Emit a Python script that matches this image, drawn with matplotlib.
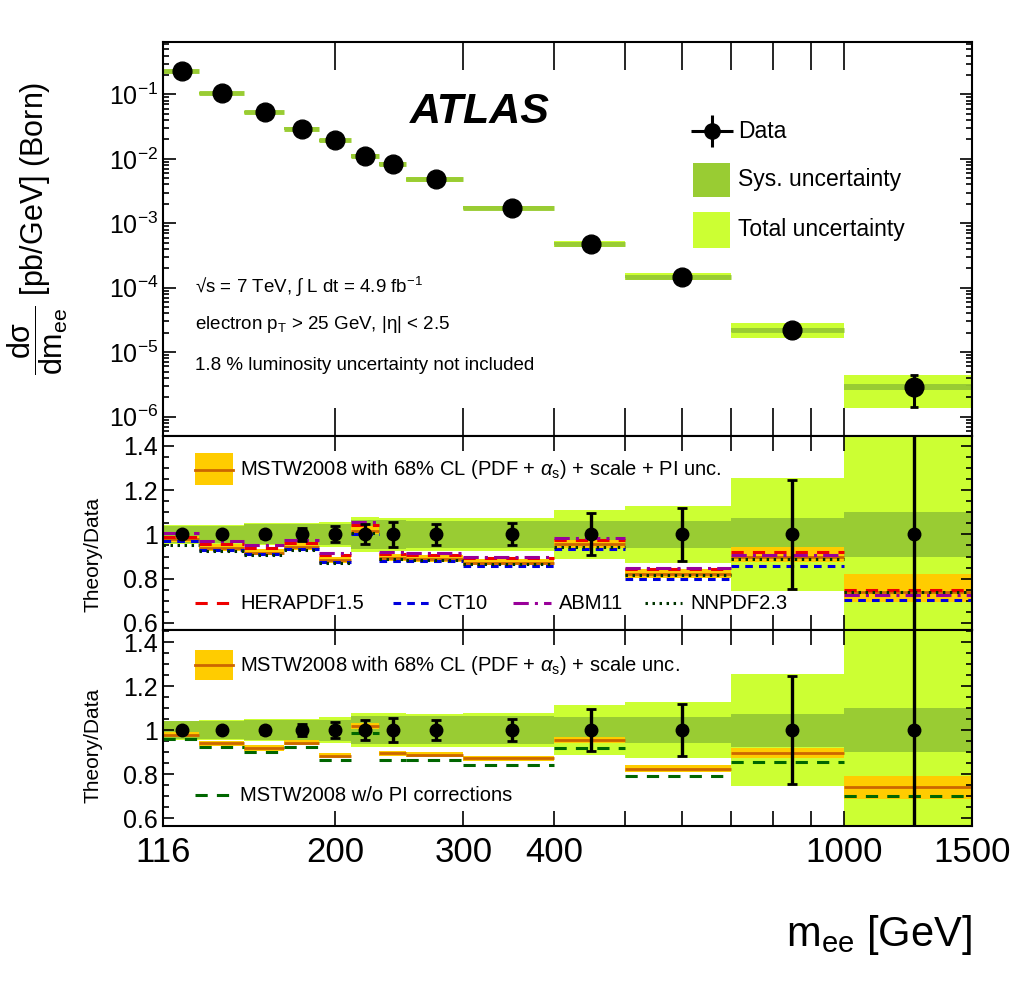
import numpy as np
import matplotlib
matplotlib.use("Agg")
import matplotlib.pyplot as plt
from matplotlib.patches import Rectangle
from matplotlib.ticker import FixedLocator, MultipleLocator, NullFormatter, FormatStrFormatter

plt.rcParams['font.family'] = ['Liberation Sans', 'DejaVu Sans']
plt.rcParams['mathtext.fontset'] = 'custom'
plt.rcParams['mathtext.rm'] = 'Liberation Sans'
plt.rcParams['mathtext.it'] = 'Liberation Sans:italic'
plt.rcParams['mathtext.bf'] = 'Liberation Sans:bold'

# bin edges in m_ee [GeV]
edges = [116, 130, 150, 170, 190, 210, 230, 250, 300, 400, 500, 700, 1000, 1500]
# measured cross section dsigma/dm [pb/GeV]
xsec = [0.228, 0.104, 0.053, 0.0294, 0.0193, 0.0111, 0.0084, 0.0048,
        0.00175, 4.85e-4, 1.49e-4, 2.22e-5, 2.9e-6]
# relative uncertainties
stat_rel = [0.008, 0.01, 0.016, 0.028, 0.036, 0.045, 0.055, 0.047, 0.05, 0.095, 0.118, 0.245, 0.52]
sys_rel = [0.04, 0.04, 0.045, 0.045, 0.048, 0.065, 0.065, 0.063, 0.062, 0.06, 0.06, 0.075, 0.1]
tot_rel = [0.043, 0.044, 0.05, 0.052, 0.058, 0.078, 0.076, 0.075, 0.076, 0.112, 0.128, 0.255, 0.53]

# theory / data
mstw = [0.978, 0.94, 0.918, 0.942, 0.884, 1.017, 0.894, 0.888, 0.872, 0.957, 0.823, 0.896, 0.74]
mstw_pi_lo = [0.965, 0.925, 0.905, 0.93, 0.87, 1.0, 0.88, 0.875, 0.86, 0.94, 0.805, 0.876, 0.695]
mstw_pi_hi = [0.995, 0.955, 0.935, 0.96, 0.9, 1.04, 0.91, 0.905, 0.89, 0.975, 0.845, 0.944, 0.82]
mstw_lo = [0.967, 0.928, 0.907, 0.932, 0.872, 1.003, 0.882, 0.877, 0.861, 0.943, 0.808, 0.872, 0.686]
mstw_hi = [0.99, 0.952, 0.93, 0.953, 0.895, 1.03, 0.905, 0.9, 0.884, 0.97, 0.84, 0.92, 0.792]
mstw_nopi = [0.96, 0.923, 0.902, 0.921, 0.862, 0.987, 0.865, 0.862, 0.842, 0.92, 0.79, 0.855, 0.70]
herapdf = [0.99, 0.958, 0.94, 0.963, 0.905, 1.042, 0.912, 0.905, 0.892, 0.975, 0.843, 0.921, 0.751]
abm = [1.005, 0.972, 0.952, 0.977, 0.915, 1.055, 0.92, 0.918, 0.899, 0.982, 0.848, 0.909, 0.727]
ct10 = [0.972, 0.93, 0.912, 0.935, 0.877, 1.0, 0.882, 0.878, 0.856, 0.932, 0.797, 0.858, 0.705]
nnpdf = [0.953, 0.925, 0.908, 0.93, 0.873, 1.005, 0.887, 0.883, 0.865, 0.944, 0.815, 0.888, 0.739]

LIGHT = '#CCFF33'
DARK = '#99CC33'
ORANGE = '#FFCC00'
BROWN = '#CC6600'

lo = np.array(edges[:-1], float)
hi = np.array(edges[1:], float)
w = hi - lo
xc = 0.5 * (lo + hi)
y = np.array(xsec)
st = np.array(stat_rel)
sy = np.array(sys_rel)
tt = np.array(tot_rel)

fig = plt.figure(figsize=(10.24, 9.82), dpi=100)
L, W = 163 / 1024, 809 / 1024
ax1 = fig.add_axes([L, 1 - 436 / 982, W, 394 / 982])
ax2 = fig.add_axes([L, 1 - 630 / 982, W, 194 / 982])
ax3 = fig.add_axes([L, 1 - 826 / 982, W, 196 / 982])

# ---- top panel
ax1.bar(lo, 2 * tt * y, width=w, bottom=y * (1 - tt), align='edge', color=LIGHT, lw=0)
ax1.bar(lo, 2 * sy * y, width=w, bottom=y * (1 - sy), align='edge', color=DARK, lw=0)
ax1.hlines(y, lo, hi, colors=DARK, lw=3.5)
ax1.errorbar(xc, y, yerr=st * y, fmt='o', color='black', ms=13.5, elinewidth=2.2, capsize=3, capthick=2)
ax1.set_yscale('log')
ax1.set_ylim(5e-7, 0.65)

ax1.text(0.305, 0.822, 'ATLAS', transform=ax1.transAxes, fontsize=31, fontweight='bold',
         fontstyle='italic', ha='left', va='center')
ax1.errorbar([0.679], [0.774], xerr=[0.026], yerr=[0.04], fmt='o', color='black', ms=11,
             elinewidth=2.2, transform=ax1.transAxes)
ax1.text(0.711, 0.774, 'Data', transform=ax1.transAxes, fontsize=16.5, va='center')
ax1.add_patch(Rectangle((0.655, 0.607), 0.046, 0.086, transform=ax1.transAxes, color=DARK, lw=0))
ax1.text(0.711, 0.65, 'Sys. uncertainty', transform=ax1.transAxes, fontsize=16.5, va='center')
ax1.add_patch(Rectangle((0.655, 0.477), 0.046, 0.092, transform=ax1.transAxes, color=LIGHT, lw=0))
ax1.text(0.711, 0.523, 'Total uncertainty', transform=ax1.transAxes, fontsize=16.5, va='center')

ax1.text(0.04, 0.378, '√s = 7 TeV, ∫ L dt = 4.9 fb$^{-1}$', transform=ax1.transAxes, fontsize=13.5, va='center')
ax1.text(0.04, 0.282, 'electron p$_{\\rm T}$ > 25 GeV, |η| < 2.5', transform=ax1.transAxes, fontsize=13.5, va='center')
ax1.text(0.04, 0.18, '1.8 % luminosity uncertainty not included', transform=ax1.transAxes, fontsize=13.5, va='center')


# ---- ratio panels
def ratio_base(ax):
    ax.bar(lo, 2 * tt, width=w, bottom=1 - tt, align='edge', color=LIGHT, lw=0)
    ax.bar(lo, 2 * sy, width=w, bottom=1 - sy, align='edge', color=DARK, lw=0)


def ratio_data(ax):
    ax.errorbar(xc, np.ones(len(xc)), yerr=st, fmt='o', color='black', ms=9,
                elinewidth=2.4, capsize=3.5, capthick=2, zorder=5)


ratio_base(ax2)
ax2.bar(lo, np.array(mstw_pi_hi) - np.array(mstw_pi_lo), width=w, bottom=mstw_pi_lo,
        align='edge', color=ORANGE, lw=0)
ax2.hlines(mstw, lo, hi, colors=BROWN, lw=2)
ax2.hlines(herapdf, lo, hi, colors='#EE0000', lw=2.2, linestyles=(0, (4, 3)))
ax2.hlines(ct10, lo, hi, colors='#0000DD', lw=2.2, linestyles=(0, (2.5, 2)))
ax2.hlines(abm, lo, hi, colors='#990099', lw=2.2, linestyles=(0, (5, 2, 1, 2)))
ax2.hlines(nnpdf, lo, hi, colors='#003300', lw=2.2, linestyles=(0, (0.8, 1.5)))
ratio_data(ax2)
ax2.set_ylim(0.568, 1.445)

ax2.add_patch(Rectangle((0.04, 0.745), 0.046, 0.165, transform=ax2.transAxes, color=ORANGE, lw=0))
ax2.plot([0.04, 0.086], [0.827, 0.827], color=BROWN, lw=2, transform=ax2.transAxes)
ax2.text(0.095, 0.827, 'MSTW2008 with 68% CL (PDF + $\\alpha_{\\rm s}$) + scale + PI unc.',
         transform=ax2.transAxes, fontsize=14.5, va='center')
leg_y = 0.139
for x0, col, ls, lab in [(0.04, '#EE0000', (0, (4, 3)), 'HERAPDF1.5'),
                         (0.284, '#0000DD', (0, (2.5, 2)), 'CT10'),
                         (0.433, '#990099', (0, (5, 2, 1, 2)), 'ABM11'),
                         (0.596, '#003300', (0, (0.8, 1.5)), 'NNPDF2.3')]:
    ax2.plot([x0, x0 + 0.046], [leg_y, leg_y], color=col, lw=2.2, ls=ls, transform=ax2.transAxes)
    ax2.text(x0 + 0.056, leg_y, lab, transform=ax2.transAxes, fontsize=14.5, va='center')

ratio_base(ax3)
ax3.bar(lo, np.array(mstw_hi) - np.array(mstw_lo), width=w, bottom=mstw_lo,
        align='edge', color=ORANGE, lw=0)
ax3.hlines(mstw, lo, hi, colors=BROWN, lw=2)
ax3.hlines(mstw_nopi, lo, hi, colors='#006600', lw=2.2, linestyles=(0, (4, 3)))
ratio_data(ax3)
ax3.set_ylim(0.564, 1.455)

ax3.add_patch(Rectangle((0.04, 0.745), 0.046, 0.153, transform=ax3.transAxes, color=ORANGE, lw=0))
ax3.plot([0.04, 0.086], [0.82, 0.82], color=BROWN, lw=2, transform=ax3.transAxes)
ax3.text(0.095, 0.82, 'MSTW2008 with 68% CL (PDF + $\\alpha_{\\rm s}$) + scale unc.',
         transform=ax3.transAxes, fontsize=14.5, va='center')
ax3.plot([0.04, 0.086], [0.158, 0.158], color='#006600', lw=2.2, ls=(0, (4, 3)), transform=ax3.transAxes)
ax3.text(0.095, 0.158, 'MSTW2008 w/o PI corrections', transform=ax3.transAxes, fontsize=14.5, va='center')

# ---- axes styling
xt_major = [116, 200, 300, 400, 1000, 1500]
xt_minor = [500, 600, 700, 800, 900]
for ax in (ax1, ax2, ax3):
    ax.set_xscale('log')
    ax.set_xlim(116, 1500)
    ax.xaxis.set_major_locator(FixedLocator(xt_major))
    ax.xaxis.set_minor_locator(FixedLocator(xt_minor))
    ax.xaxis.set_minor_formatter(NullFormatter())
    ax.tick_params(which='both', direction='in', top=True, right=True, labelsize=18, width=1.2)
    for s in ax.spines.values():
        s.set_linewidth(1.5)
ax1.tick_params(axis='x', which='both', length=20, labelbottom=False)
ax1.tick_params(axis='y', which='major', length=9)
ax1.tick_params(axis='y', which='minor', length=4.5)
for ax in (ax2, ax3):
    ax.tick_params(axis='x', which='both', length=11)
    ax.tick_params(axis='y', which='major', length=8)
    ax.tick_params(axis='y', which='minor', length=4)
    ax.yaxis.set_major_locator(FixedLocator([0.6, 0.8, 1.0, 1.2, 1.4]))
    ax.yaxis.set_minor_locator(MultipleLocator(0.05))
    ax.yaxis.set_major_formatter(FormatStrFormatter('%g'))
ax2.tick_params(axis='x', labelbottom=False)
ax3.set_xticklabels([str(v) for v in xt_major], fontsize=25)
ax3.tick_params(axis='x', pad=7)

fig.text(0.037, 0.768, '$\\dfrac{\\rm d\\sigma}{{\\rm dm}_{\\rm ee}}$ [pb/GeV] (Born)', rotation=90,
         fontsize=22, ha='center', va='center')
fig.text(0.091, 0.435, 'Theory/Data', rotation=90, fontsize=15, ha='center', va='center')
fig.text(0.091, 0.241, 'Theory/Data', rotation=90, fontsize=15, ha='center', va='center')
fig.text(972 / 1024, 1 - 935 / 982, 'm$_{\\rm ee}$ [GeV]', fontsize=30, ha='right', va='center')

fig.savefig('out.png', dpi=100)
